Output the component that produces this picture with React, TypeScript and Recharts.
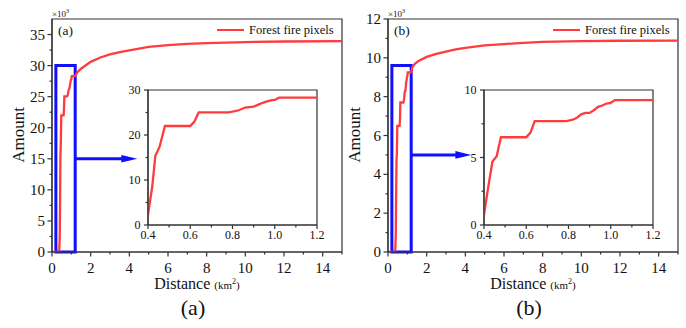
import React from 'react'
import { Legend, Line, LineChart, ReferenceArea, XAxis, YAxis } from 'recharts'

const RED = '#ff3b3b'
const BLUE = '#1010ff'
const AXIS = '#333'
const FONT = 'Liberation Serif, Times New Roman, serif'

// amounts are in 10^3 pixels, distance in km²
const headDist = [0, 0.37]
const headAmount = [0, 0]

const zoomDistA = [0.4, 0.42, 0.435, 0.455, 0.48, 0.6, 0.62, 0.64, 0.78, 0.8, 0.83, 0.86, 0.9, 0.92, 0.94, 0.96, 0.98, 1.0, 1.02, 1.2]
const zoomAmountA = [2.3, 8.5, 15.4, 17.4, 22, 22, 23, 25.05, 25.05, 25.2, 25.5, 26.1, 26.3, 26.7, 27.1, 27.4, 27.7, 27.8, 28.3, 28.3]
const tailDistA = [1.3, 1.5, 2, 2.5, 3, 3.5, 4, 5, 6, 7, 8, 10, 12, 15]
const tailAmountA = [28.9, 29.5, 30.6, 31.3, 31.8, 32.15, 32.45, 33.0, 33.3, 33.5, 33.62, 33.78, 33.88, 33.95]

const zoomDistB = [0.4, 0.42, 0.44, 0.46, 0.48, 0.6, 0.62, 0.64, 0.79, 0.82, 0.84, 0.86, 0.88, 0.9, 0.92, 0.94, 0.96, 0.98, 1.0, 1.02, 1.2]
const zoomAmountB = [0.76, 2.8, 4.7, 5.1, 6.5, 6.5, 6.85, 7.7, 7.7, 7.8, 7.95, 8.2, 8.3, 8.3, 8.5, 8.75, 8.85, 9.0, 9.05, 9.25, 9.25]
const tailDistB = [1.25, 1.4, 1.6, 2, 2.5, 3, 3.5, 4, 5, 6, 7, 8, 10, 12, 15]
const tailAmountB = [9.5, 9.7, 9.85, 10.05, 10.2, 10.32, 10.43, 10.51, 10.64, 10.71, 10.77, 10.82, 10.86, 10.88, 10.89]

const arrowDistA = [1.2, 4.0]
const arrowAmountA = [15, 15]
const arrowDistB = [1.2, 3.9]
const arrowAmountB = [5, 5]

const mainXTicks = [0, 1, 2, 3, 4, 5, 6, 7, 8, 9, 10, 11, 12, 13, 14, 15]
const mainXMajor = [0, 2, 4, 6, 8, 10, 12, 14]
const mainYTicksA = [0, 2.5, 5, 7.5, 10, 12.5, 15, 17.5, 20, 22.5, 25, 27.5, 30, 32.5, 35]
const mainYMajorA = [0, 5, 10, 15, 20, 25, 30, 35]
const mainYTicksB = [0, 1, 2, 3, 4, 5, 6, 7, 8, 9, 10, 11, 12]
const mainYMajorB = [0, 2, 4, 6, 8, 10, 12]

const zoomXTicks = [0.4, 0.5, 0.6, 0.7, 0.8, 0.9, 1.0, 1.1, 1.2]
const zoomXMajor = [0.4, 0.6, 0.8, 1.0, 1.2]
const zoomYTicksA = [0, 5, 10, 15, 20, 25, 30]
const zoomYMajorA = [0, 10, 20, 30]
const zoomYTicksB = [0, 2.5, 5, 7.5, 10]
const zoomYMajorB = [0, 5, 10]

type Pt = { x: number; y: number }
const toPoints = (xs: number[], ys: number[]): Pt[] => xs.map((x, i) => ({ x, y: ys[i] }))

type TickOpts = { size: number; major: number; minor: number; offset: number; digits: number }

function makeTick(side: 'left' | 'bottom', majors: number[], o: TickOpts) {
  return (props: any) => {
    const { x, y, payload, index } = props
    const v = Number(payload.value)
    const isMajor = majors.some((m) => Math.abs(m - v) < 1e-6)
    const len = isMajor ? o.major : o.minor
    const label = o.digits > 0 ? v.toFixed(o.digits) : String(v)
    const textStyle = { fontFamily: FONT, fontSize: o.size }
    if (side === 'bottom') {
      return (
        <g key={`t${index}`}>
          <line x1={x} x2={x} y1={y} y2={y + len} stroke={AXIS} strokeWidth={1.2} />
          {isMajor && (
            <text x={x} y={y + o.offset} textAnchor="middle" fontFamily={FONT} style={textStyle} fill="#111">
              {label}
            </text>
          )}
        </g>
      )
    }
    return (
      <g key={`t${index}`}>
        <line x1={x - len} x2={x} y1={y} y2={y} stroke={AXIS} strokeWidth={1.2} />
        {isMajor && (
          <text x={x - o.offset} y={y + o.size * 0.34} textAnchor="end" fontFamily={FONT} style={textStyle} fill="#111">
            {label}
          </text>
        )}
      </g>
    )
  }
}

const arrowHead = (props: any) => {
  const { cx, cy, index } = props
  if (index !== 1) return <g key={`a${index}`} />
  return <polygon key="head" points={`${cx + 8},${cy} ${cx - 8},${cy - 3.8} ${cx - 8},${cy + 3.8}`} fill={BLUE} />
}

const legendContent = () => (
  <div style={{ display: 'flex', alignItems: 'center', fontFamily: FONT, fontSize: 12.5, color: '#111', whiteSpace: 'nowrap' }}>
    <span style={{ display: 'inline-block', width: 27, height: 2.5, background: RED, marginRight: 5 }} />
    Forest fire pixels
  </div>
)

type PanelProps = {
  left: number
  tag: string
  mainData: Pt[]
  zoomData: Pt[]
  arrow: Pt[]
  yMax: number
  yTicks: number[]
  yMajor: number[]
  boxTop: number
  zoomYMax: number
  zoomYTicks: number[]
  zoomYMajor: number[]
}

function Panel(p: PanelProps) {
  const text = { position: 'absolute' as const, fontFamily: FONT, color: '#111', whiteSpace: 'nowrap' as const }
  return (
    <div style={{ position: 'absolute', left: p.left, top: 0, width: 350, height: 328, fontFamily: FONT }}>
      <LineChart width={350} height={328} margin={{ top: 19, right: 8, bottom: 56, left: 0 }}>
        <XAxis
          type="number"
          dataKey="x"
          domain={[0, 15]}
          ticks={mainXTicks}
          interval={0}
          allowDataOverflow
          height={20}
          tickSize={0}
          tickMargin={0}
          tickLine={false}
          axisLine={{ stroke: AXIS, strokeWidth: 1.2 }}
          tick={makeTick('bottom', mainXMajor, { size: 15, major: 4.5, minor: 2.5, offset: 20.5, digits: 0 })}
        />
        <YAxis
          type="number"
          dataKey="y"
          domain={[0, p.yMax]}
          ticks={p.yTicks}
          interval={0}
          allowDataOverflow
          width={52}
          tickSize={0}
          tickMargin={0}
          tickLine={false}
          axisLine={{ stroke: AXIS, strokeWidth: 1.2 }}
          tick={makeTick('left', p.yMajor, { size: 15, major: 4.5, minor: 2.5, offset: 7, digits: 0 })}
        />
        <ReferenceArea x1={0} x2={15} y1={0} y2={p.yMax} fill="none" stroke={AXIS} strokeWidth={1.2} />
        <Line
          data={p.mainData}
          dataKey="y"
          type="linear"
          stroke={RED}
          strokeWidth={2.3}
          dot={false}
          activeDot={false}
          isAnimationActive={false}
        />
        <ReferenceArea x1={0.2} x2={1.2} y1={0} y2={p.boxTop} fill="none" stroke={BLUE} strokeWidth={3} />
        <Line
          data={p.arrow}
          dataKey="y"
          type="linear"
          stroke={BLUE}
          strokeWidth={3}
          dot={arrowHead}
          activeDot={false}
          isAnimationActive={false}
        />
        <Legend
          layout="horizontal"
          verticalAlign="middle"
          align="center"
          wrapperStyle={{ top: 22.5, left: 217, width: 'auto' }}
          content={legendContent}
        />
      </LineChart>

      <div style={{ position: 'absolute', left: 118, top: 82 }}>
        <LineChart width={211} height={165} margin={{ top: 8, right: 12, bottom: 0, left: 0 }} style={{ overflow: 'visible' }}>
          <XAxis
            type="number"
            dataKey="x"
            domain={[0.4, 1.2]}
            ticks={zoomXTicks}
            interval={0}
            allowDataOverflow
            height={22}
            tickSize={0}
            tickMargin={0}
            tickLine={false}
            axisLine={{ stroke: AXIS, strokeWidth: 1.2 }}
            tick={makeTick('bottom', zoomXMajor, { size: 12, major: 4, minor: 2.5, offset: 14, digits: 1 })}
          />
          <YAxis
            type="number"
            dataKey="y"
            domain={[0, p.zoomYMax]}
            ticks={p.zoomYTicks}
            interval={0}
            allowDataOverflow
            width={30}
            tickSize={0}
            tickMargin={0}
            tickLine={false}
            axisLine={{ stroke: AXIS, strokeWidth: 1.2 }}
            tick={makeTick('left', p.zoomYMajor, { size: 12, major: 4, minor: 2.5, offset: 7.5, digits: 0 })}
          />
          <ReferenceArea x1={0.4} x2={1.2} y1={0} y2={p.zoomYMax} fill="none" stroke={AXIS} strokeWidth={1.2} />
          <Line
            data={p.zoomData}
            dataKey="y"
            type="linear"
            stroke={RED}
            strokeWidth={2.3}
            dot={false}
            activeDot={false}
            isAnimationActive={false}
          />
        </LineChart>
      </div>

      <div style={{ ...text, left: 52, top: 6, fontSize: 9, lineHeight: '10px' }}>
        ×10<sup style={{ fontSize: 6 }}>3</sup>
      </div>
      <div style={{ ...text, left: 58, top: 23, fontSize: 13.5, lineHeight: '16px' }}>({p.tag})</div>
      <div
        style={{
          ...text,
          left: 19,
          top: 135,
          fontSize: 17,
          transform: 'translate(-50%, -50%) rotate(-90deg)'
        }}
      >
        Amount
      </div>
      <div style={{ ...text, left: 197, top: 284, fontSize: 16, transform: 'translate(-50%, -50%)' }}>
        Distance <span style={{ fontSize: 11 }}>(km<sup style={{ fontSize: 8 }}>2</sup>)</span>
      </div>
      <div style={{ ...text, left: 193, top: 308, fontSize: 22, transform: 'translate(-50%, -50%)' }}>({p.tag})</div>
    </div>
  )
}

export default function App() {
  const mainA = toPoints([...headDist, ...zoomDistA, ...tailDistA], [...headAmount, ...zoomAmountA, ...tailAmountA])
  const mainB = toPoints([...headDist, ...zoomDistB, ...tailDistB], [...headAmount, ...zoomAmountB, ...tailAmountB])
  return (
    <div style={{ position: 'absolute', left: 0, top: 0, width: 686, height: 328, background: '#fff', overflow: 'hidden' }}>
      <Panel
        left={0}
        tag="a"
        mainData={mainA}
        zoomData={toPoints(zoomDistA, zoomAmountA)}
        arrow={toPoints(arrowDistA, arrowAmountA)}
        yMax={37.5}
        yTicks={mainYTicksA}
        yMajor={mainYMajorA}
        boxTop={30}
        zoomYMax={30}
        zoomYTicks={zoomYTicksA}
        zoomYMajor={zoomYMajorA}
      />
      <Panel
        left={336}
        tag="b"
        mainData={mainB}
        zoomData={toPoints(zoomDistB, zoomAmountB)}
        arrow={toPoints(arrowDistB, arrowAmountB)}
        yMax={12}
        yTicks={mainYTicksB}
        yMajor={mainYMajorB}
        boxTop={9.6}
        zoomYMax={10}
        zoomYTicks={zoomYTicksB}
        zoomYMajor={zoomYMajorB}
      />
    </div>
  )
}
